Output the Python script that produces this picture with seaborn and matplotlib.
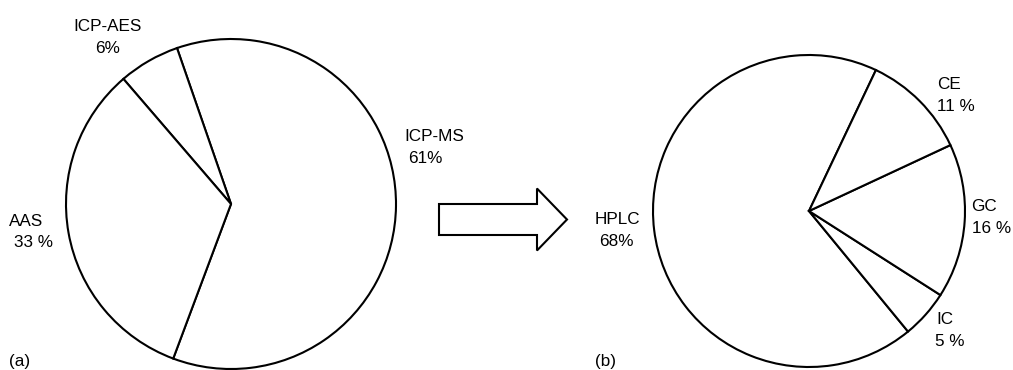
import matplotlib
matplotlib.use("Agg")
import matplotlib.pyplot as plt
import seaborn as sns
from matplotlib.patches import FancyArrow

# Share of analytical techniques before (a) and after (b)
tech_a = ["ICP-MS", "ICP-AES", "AAS"]
share_a = [61, 6, 33]
pct_fmt_a = ["{}%", "{}%", "{} %"]

tech_b = ["HPLC", "IC", "GC", "CE"]
share_b = [68, 5, 16, 11]
pct_fmt_b = ["{}%", "{} %", "{} %", "{} %"]

panel_tags = ["(a)", "(b)"]

sns.set_theme(style="white")
plt.rcParams["font.family"] = ["Liberation Sans", "DejaVu Sans"]
plt.rcParams["text.color"] = "black"

W, H = 1013, 370
fig = plt.figure(figsize=(W / 100, H / 100), dpi=100)
ax = fig.add_axes([0, 0, 1, 1])


def up(y):
    """Convert a top-down pixel row into the axes' upward y."""
    return H - y


edge = dict(facecolor="white", edgecolor="black", linewidth=1.5)

ax.pie(share_a, center=(231, up(204)), radius=165, startangle=249.5,
       counterclock=True, wedgeprops=edge, frame=True)
ax.pie(share_b, center=(809, up(211)), radius=156, startangle=64.6,
       counterclock=True, wedgeprops=edge, frame=True)

# block arrow between the two panels
ax.add_patch(FancyArrow(439, up(219.5), 128, 0, width=31, head_width=62,
                        head_length=30, length_includes_head=True,
                        facecolor="white", edgecolor="black", linewidth=1.5))

fs = 12.3
# label placement: (name x, name baseline, pct x, pct baseline, align)
place_a = [(404, 141, 408, 163, "left"),
           (108, 31, 108, 53, "center"),
           (9, 226, 14, 247, "left")]
place_b = [(595, 224, 599, 246, "left"),
           (936, 324, 935, 346, "left"),
           (971, 211, 972, 233, "left"),
           (937, 89, 937, 111, "left")]

for names, vals, fmts, places in [(tech_a, share_a, pct_fmt_a, place_a),
                                  (tech_b, share_b, pct_fmt_b, place_b)]:
    for name, v, f, (x1, y1, x2, y2, ha) in zip(names, vals, fmts, places):
        ax.text(x1, up(y1), name, fontsize=fs, ha=ha, va="baseline",
                color="black")
        ax.text(x2, up(y2), f.format(v), fontsize=fs, ha=ha, va="baseline",
                color="black")

for tag, x in zip(panel_tags, [9, 595]):
    ax.text(x, up(366), tag, fontsize=fs, ha="left", va="baseline",
            color="black")

ax.set_xlim(0, W)
ax.set_ylim(0, H)
ax.set_aspect("equal")
ax.axis("off")

fig.savefig("out.png", dpi=100, facecolor="white")
